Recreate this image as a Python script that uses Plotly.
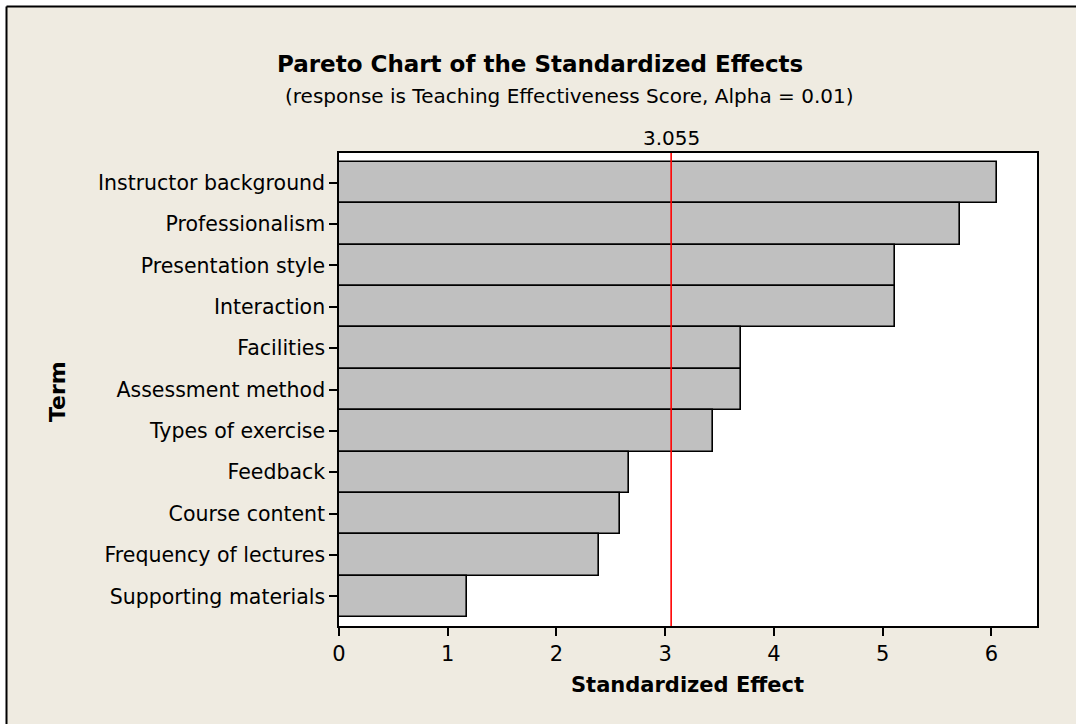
import plotly.graph_objects as go

terms = ["Instructor background", "Professionalism", "Presentation style", "Interaction",
         "Facilities", "Assessment method", "Types of exercise", "Feedback",
         "Course content", "Frequency of lectures", "Supporting materials"]
effects = [6.05, 5.71, 5.11, 5.11, 3.70, 3.70, 3.44, 2.67, 2.58, 2.39, 1.18]
alpha_line = 3.055
x_ticks = [0, 1, 2, 3, 4, 5, 6]

W, H = 1076, 724
L, R, T, B = 339, 39, 153, 98
pw, ph = W - L - R, H - T - B

def px(x):
    return (x - L) / pw

def py(y):
    return (H - B - y) / ph

FONT = "DejaVu Sans"
BEIGE = "#EFEBE1"

fig = go.Figure()
fig.add_trace(go.Bar(
    x=effects, y=terms, orientation="h", width=1,
    marker=dict(color="#C0C0C0", line=dict(color="black", width=1.6)),
    showlegend=False, hoverinfo="x+y",
))

# white margin strips outside the outer frame, and the frame lines
fig.add_shape(type="rect", xref="paper", yref="paper", x0=px(-5), x1=px(6), y0=py(-5), y1=py(H + 5),
              line=dict(width=0), fillcolor="white")
fig.add_shape(type="rect", xref="paper", yref="paper", x0=px(-5), x1=px(W + 5), y0=py(-5), y1=py(6),
              line=dict(width=0), fillcolor="white")
fig.add_shape(type="line", xref="paper", yref="paper", x0=px(6.5), x1=px(6.5), y0=py(6.5), y1=py(H + 5),
              line=dict(color="black", width=2))
fig.add_shape(type="line", xref="paper", yref="paper", x0=px(6.5), x1=px(W + 5), y0=py(6.5), y1=py(6.5),
              line=dict(color="black", width=2))

fig.add_shape(type="line", xref="x", yref="paper", x0=alpha_line, x1=alpha_line, y0=0, y1=1,
              line=dict(color="red", width=1.6))

fig.add_annotation(x=alpha_line, xref="x", xanchor="center", y=py(138), yref="paper", yanchor="middle",
                   text=f"{alpha_line:.3f}", showarrow=False, font=dict(size=20, color="black", family=FONT))

fig.add_annotation(x=px(540), xref="paper", xanchor="center", y=py(64), yref="paper",
                   text="<b>Pareto Chart of the Standardized Effects</b>",
                   showarrow=False, font=dict(size=23, color="black", family=FONT), yanchor="middle")
fig.add_annotation(x=px(569), xref="paper", xanchor="center", y=py(96), yref="paper",
                   text="(response is Teaching Effectiveness Score, Alpha = 0.01)",
                   showarrow=False, font=dict(size=20, color="black", family=FONT), yanchor="middle")
fig.add_annotation(x=px(687), xref="paper", xanchor="center", y=py(685), yref="paper", yanchor="middle",
                   text="<b>Standardized Effect</b>", showarrow=False,
                   font=dict(size=21, color="black", family=FONT))
fig.add_annotation(x=px(57), xref="paper", xanchor="center", y=py(392), yref="paper", yanchor="middle",
                   text="<b>Term</b>", showarrow=False, textangle=-90,
                   font=dict(size=22, color="black", family=FONT))

fig.update_layout(
    width=W, height=H,
    margin=dict(l=L, r=R, t=T, b=B),
    paper_bgcolor=BEIGE, plot_bgcolor="white",
    font=dict(family=FONT, size=20, color="black"),
    bargap=0,
    xaxis=dict(range=[0, 6.42], tickvals=x_ticks, ticks="outside", ticklen=8, tickwidth=1.5,
               tickcolor="black", showline=True, linecolor="black", linewidth=1.5, mirror=True,
               showgrid=False, zeroline=False, tickfont=dict(size=21)),
    yaxis=dict(categoryorder="array", categoryarray=terms, range=[10.717, -0.717],
               ticks="outside", ticklen=8, tickwidth=1.5, tickcolor="black",
               showline=True, linecolor="black", linewidth=1.5, mirror=True, showgrid=False,
               tickfont=dict(size=20.5)),
)

fig.write_html("out.html", config={"displayModeBar": False},
               post_script="document.body.style.margin='0px';")
